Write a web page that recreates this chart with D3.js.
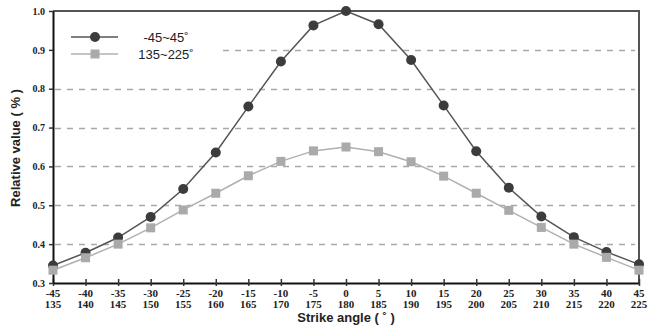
<!DOCTYPE html>
<html>
<head>
<meta charset="utf-8">
<script src="https://cdn.jsdelivr.net/npm/d3@7"></script>
<style>
  body { margin: 0; background: #fff; }
  svg { display: block; }
</style>
</head>
<body>
<svg></svg>
<script>
var width = 661;
var height = 330;
var margin = {top: 11, right: 22, bottom: 47, left: 53};

// strike angles, two label rows
var anglesA = [-45, -40, -35, -30, -25, -20, -15, -10, -5, 0, 5, 10, 15, 20, 25, 30, 35, 40, 45];
var anglesB = [135, 140, 145, 150, 155, 160, 165, 170, 175, 180, 185, 190, 195, 200, 205, 210, 215, 220, 225];

var frontValues = [0.345, 0.378, 0.417, 0.470, 0.542, 0.636, 0.754, 0.870, 0.963, 1.000,
                   0.966, 0.874, 0.757, 0.639, 0.545, 0.471, 0.418, 0.380, 0.348];
var backValues = [0.333, 0.365, 0.400, 0.442, 0.488, 0.531, 0.576, 0.613, 0.640, 0.650,
                  0.638, 0.612, 0.575, 0.531, 0.487, 0.443, 0.400, 0.366, 0.333];

var yTicks = [0.3, 0.4, 0.5, 0.6, 0.7, 0.8, 0.9, 1.0];
var gridTicks = [0.4, 0.5, 0.6, 0.7, 0.8, 0.9];

var seriesNames = ['-45~45\u02DA', '135~225\u02DA'];

var xScale = d3.scaleLinear()
               .domain([-45, 45])
               .range([margin.left, width - margin.right]);

var yScale = d3.scaleLinear()
               .domain([0.3, 1.0])
               .range([height - margin.bottom, margin.top]);

var svg = d3.select('svg')
            .attr('width', width)
            .attr('height', height);

// dashed grid
svg.append('g')
   .selectAll('line')
   .data(gridTicks)
   .enter()
   .append('line')
     .attr('x1', margin.left + 2)
     .attr('x2', width - margin.right - 4)
     .attr('y1', d => Math.round(yScale(d)) + 0.5)
     .attr('y2', d => Math.round(yScale(d)) + 0.5)
     .attr('stroke', '#a8a8a8')
     .attr('stroke-width', 1.5)
     .attr('stroke-dasharray', '6,6');

// top and right frame
svg.append('path')
   .attr('d', `M${margin.left},${margin.top}H${width - margin.right}V${height - margin.bottom}`)
   .attr('fill', 'none')
   .attr('stroke', '#555')
   .attr('stroke-width', 2);

// x axis, two rows of labels
var xAxis = svg.append('g')
               .attr('transform', `translate(0, ${height - margin.bottom})`)
               .call(d3.axisBottom(xScale)
                       .tickValues(anglesA)
                       .tickSizeInner(-4)
                       .tickSizeOuter(0)
                       .tickFormat(''));
xAxis.select('.domain').attr('stroke', '#111').attr('stroke-width', 2);
xAxis.selectAll('.tick line').attr('stroke', '#333').attr('stroke-width', 1.5).attr('y1', 3);

svg.append('g')
   .selectAll('text')
   .data(anglesA)
   .enter()
   .append('text')
     .attr('x', d => xScale(d))
     .attr('y', 297)
     .attr('text-anchor', 'middle')
     .style('font', 'bold 11px "Liberation Serif", serif')
     .style('fill', '#222')
     .text(d => d);

svg.append('g')
   .selectAll('text')
   .data(anglesB)
   .enter()
   .append('text')
     .attr('x', (d, i) => xScale(anglesA[i]))
     .attr('y', 308)
     .attr('text-anchor', 'middle')
     .style('font', 'bold 11px "Liberation Serif", serif')
     .style('fill', '#222')
     .text(d => d);

// y axis
var yAxis = svg.append('g')
               .attr('transform', `translate(${margin.left}, 0)`)
               .call(d3.axisLeft(yScale)
                       .tickValues(yTicks)
                       .tickSizeInner(4)
                       .tickSizeOuter(0)
                       .tickPadding(4)
                       .tickFormat(d3.format('.1f')));
yAxis.select('.domain').attr('stroke', '#111').attr('stroke-width', 2);
yAxis.selectAll('.tick line').attr('stroke', '#333').attr('stroke-width', 1.5);
yAxis.selectAll('.tick text')
     .style('font', 'bold 10px "Liberation Serif", serif')
     .style('fill', '#222');

// lines and markers
var line = d3.line()
             .x((d, i) => xScale(anglesA[i]))
             .y(d => yScale(d));

svg.append('path')
   .datum(backValues)
   .attr('fill', 'none')
   .attr('stroke', '#b0b0b0')
   .attr('stroke-width', 1.5)
   .attr('d', line);

svg.append('path')
   .datum(frontValues)
   .attr('fill', 'none')
   .attr('stroke', '#555')
   .attr('stroke-width', 1.5)
   .attr('d', line);

svg.append('g')
   .selectAll('circle')
   .data(frontValues)
   .enter()
   .append('circle')
     .attr('cx', (d, i) => xScale(anglesA[i]))
     .attr('cy', d => yScale(d))
     .attr('r', 5)
     .attr('fill', '#3c3c3c');

svg.append('g')
   .selectAll('rect')
   .data(backValues)
   .enter()
   .append('rect')
     .attr('x', (d, i) => xScale(anglesA[i]) - 4.5)
     .attr('y', d => yScale(d) - 4.5)
     .attr('width', 9)
     .attr('height', 9)
     .attr('fill', '#aaaaaa');

// legend, white box hides the grid behind it
var legend = svg.append('g');
legend.append('rect')
      .attr('x', margin.left + 2)
      .attr('y', 26)
      .attr('width', 163)
      .attr('height', 38)
      .attr('fill', '#fff');

var legendRows = [
  {y: 37, color: '#555', mark: 'circle', fill: '#3c3c3c'},
  {y: 54, color: '#b0b0b0', mark: 'rect', fill: '#aaaaaa'}
];

legendRows.forEach(function(r, i){
  legend.append('line')
        .attr('x1', 71).attr('x2', 118)
        .attr('y1', r.y).attr('y2', r.y)
        .attr('stroke', r.color)
        .attr('stroke-width', 1.5);
  if(r.mark === 'circle'){
    legend.append('circle')
          .attr('cx', 95).attr('cy', r.y).attr('r', 5)
          .attr('fill', r.fill);
  } else {
    legend.append('rect')
          .attr('x', 90.5).attr('y', r.y - 4.5)
          .attr('width', 9).attr('height', 9)
          .attr('fill', r.fill);
  }
  legend.append('text')
        .attr('x', 166)
        .attr('y', r.y + 5)
        .attr('text-anchor', 'middle')
        .style('font', '13px "Liberation Sans", Arial, sans-serif')
        .style('fill', '#222')
        .text(seriesNames[i]);
});

// axis titles
svg.append('text')
   .attr('x', 346)
   .attr('y', 322)
   .attr('text-anchor', 'middle')
   .style('font', 'bold 13px "Liberation Sans", Arial, sans-serif')
   .style('fill', '#222')
   .text('Strike angle ( \u02DA )');

svg.append('text')
   .attr('transform', 'rotate(-90)')
   .attr('x', -148)
   .attr('y', 20)
   .attr('text-anchor', 'middle')
   .style('font', 'bold 13px "Liberation Sans", Arial, sans-serif')
   .style('fill', '#222')
   .text('Relative value ( % )');
</script>
</body>
</html>
